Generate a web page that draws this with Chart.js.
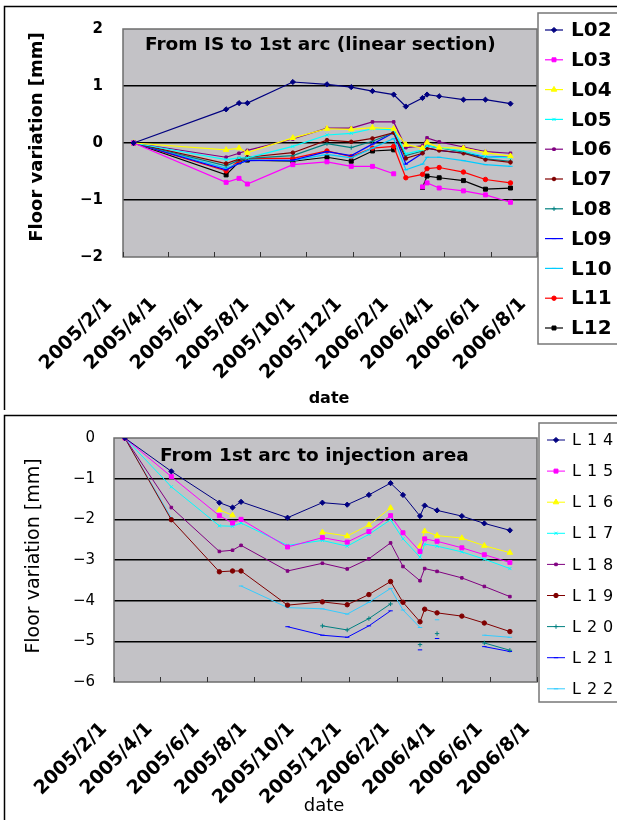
<!DOCTYPE html>
<html>
<head>
<meta charset="utf-8">
<script src="https://cdn.jsdelivr.net/npm/chart.js@4.4.1/dist/chart.umd.min.js"></script>
<style>
  body { margin: 0; background: #fff; width: 617px; height: 820px; overflow: hidden; position: relative; }
  canvas { position: absolute; left: 0; }
  #topChart { top: 0; }
  #bottomChart { top: 410px; }
</style>
</head>
<body>
<canvas id="topChart" width="617" height="410"></canvas>
<canvas id="bottomChart" width="617" height="410"></canvas>
<script>
// axis ticks (every 2 months)
const tickDates = ['2005/2/1', '2005/4/1', '2005/6/1', '2005/8/1', '2005/10/1', '2005/12/1', '2006/2/1', '2006/4/1', '2006/6/1', '2006/8/1'];

// survey dates
const datesTop = ['2005/2/15', '2005/6/17', '2005/7/4', '2005/7/15', '2005/9/13', '2005/10/28', '2005/11/29', '2005/12/27',
  '2006/1/24', '2006/2/9', '2006/3/3', '2006/3/9', '2006/3/25', '2006/4/26', '2006/5/25', '2006/6/27'];
const datesBottom = ['2005/2/15', '2005/4/16', '2005/6/17', '2005/7/4', '2005/7/15', '2005/9/13', '2005/10/28', '2005/11/29', '2005/12/27',
  '2006/1/24', '2006/2/9', '2006/3/3', '2006/3/9', '2006/3/25', '2006/4/26', '2006/5/25', '2006/6/27'];

// From IS to 1st arc (mm)
const L02 = [0, 0.59, 0.70, 0.70, 1.07, 1.03, 0.98, 0.91, 0.85, 0.64, 0.79, 0.85, 0.82, 0.76, 0.76, 0.69];
const L03 = [0, -0.69, -0.62, -0.72, -0.38, -0.33, -0.41, -0.41, -0.54, null, -0.77, -0.70, -0.79, -0.84, -0.91, -1.04];
const L04 = [0, -0.12, -0.09, -0.17, 0.09, 0.25, 0.24, 0.27, 0.25, -0.03, -0.09, 0.01, -0.08, -0.09, -0.17, -0.23];
const L05 = [0, -0.29, -0.26, -0.26, -0.06, 0.14, 0.17, 0.25, 0.23, -0.19, -0.12, -0.05, -0.08, -0.14, -0.24, -0.26];
const L06 = [0, -0.25, -0.18, -0.13, 0.07, 0.26, 0.26, 0.37, 0.37, -0.08, -0.05, 0.09, 0.02, -0.07, -0.15, -0.18];
const L07 = [0, -0.36, -0.28, -0.25, -0.17, 0.05, 0.02, 0.08, 0.18, -0.27, -0.18, -0.09, -0.13, -0.18, -0.29, -0.34];
const L08 = [0, -0.40, -0.30, -0.27, -0.22, -0.01, -0.08, 0.03, 0.18, -0.22, -0.14, -0.05, -0.08, -0.16, -0.28, -0.32];
const L09 = [0, -0.47, -0.36, -0.31, -0.30, -0.15, -0.22, -0.02, 0.18, -0.37, -0.18, -0.09, -0.13, -0.18, -0.24, -0.25];
const L10 = [0, -0.44, -0.36, -0.30, -0.31, -0.20, -0.26, -0.09, 0.08, -0.47, -0.37, -0.25, -0.25, -0.31, -0.38, -0.41];
const L11 = [0, -0.49, -0.31, -0.27, -0.27, -0.14, -0.24, -0.09, -0.06, -0.61, -0.55, -0.45, -0.43, -0.51, -0.64, -0.70];
const L12 = [0, -0.56, -0.33, -0.30, -0.32, -0.25, -0.32, -0.14, -0.12, null, -0.78, -0.58, -0.61, -0.66, -0.81, -0.79];

// From 1st arc to injection area (mm)
const L14 = [0, -0.82, -1.59, -1.71, -1.57, -1.96, -1.59, -1.64, -1.40, -1.11, -1.40, -1.92, -1.66, -1.78, -1.92, -2.10, -2.27];
const L15 = [0, -0.95, -1.91, -2.09, -2.00, -2.68, -2.45, -2.56, -2.30, -1.91, -2.33, -2.79, -2.48, -2.54, -2.70, -2.87, -3.06];
const L16 = [0, null, -1.77, -1.90, null, null, -2.32, -2.41, -2.14, -1.72, null, -2.66, -2.29, -2.40, -2.46, -2.65, -2.82];
const L17 = [0, -1.20, -2.16, -2.17, -2.09, -2.64, -2.52, -2.66, -2.37, -2.01, -2.48, -2.93, -2.61, -2.66, -2.80, -2.98, -3.21];
const L18 = [0, -1.71, -2.79, -2.76, -2.64, -3.27, -3.08, -3.22, -2.97, -2.58, -3.16, -3.51, -3.21, -3.28, -3.44, -3.65, -3.90];
const L19 = [0, -2.01, -3.29, -3.27, -3.27, -4.11, -4.03, -4.10, -3.85, -3.53, -4.04, -4.52, -4.21, -4.30, -4.38, -4.55, -4.76];
const L20 = [0, null, null, null, null, null, -4.62, -4.72, -4.44, -4.08, null, -5.08, null, -4.81, null, -5.04, -5.22];
const L21 = [0, null, null, null, null, -4.64, -4.85, -4.90, -4.62, -4.25, null, -5.21, null, -4.93, null, -5.13, -5.25];
const L22 = [0, -1.97, null, null, -3.64, -4.17, -4.20, -4.33, -4.04, -3.70, -4.23, -4.66, null, -4.47, null, -4.85, -4.90];

const namesTop = ['L02', 'L03', 'L04', 'L05', 'L06', 'L07', 'L08', 'L09', 'L10', 'L11', 'L12'];
const valuesTop = [L02, L03, L04, L05, L06, L07, L08, L09, L10, L11, L12];
const namesBottom = ['L14', 'L15', 'L16', 'L17', 'L18', 'L19', 'L20', 'L21', 'L22'];
const valuesBottom = [L14, L15, L16, L17, L18, L19, L20, L21, L22];

// look of the series (Excel style)
const colorsTop = ['#000080', '#ff00ff', '#ffff00', '#00ffff', '#800080', '#800000', '#008080', '#0000ff', '#00ccff', '#ff0000', '#000000'];
const markersTop = ['rectRot', 'rect', 'triangle', 'crossRot', 'rect', 'circle', 'cross', 'line', 'line', 'circle', 'rect'];
const sizesTop = [2.6, 2.8, 3.2, 2.2, 1.8, 1.8, 2.2, 2.2, 2.2, 2.2, 2.8];
const colorsBottom = ['#000080', '#ff00ff', '#ffff00', '#00ffff', '#800080', '#800000', '#008080', '#0000ff', '#33ccff'];
const markersBottom = ['rectRot', 'rect', 'triangle', 'crossRot', 'rect', 'circle', 'cross', 'line', 'line'];
const sizesBottom = [2.6, 2.8, 3.2, 2.2, 1.8, 2.2, 2.2, 2.2, 2.2];

const FONT = "'DejaVu Sans', sans-serif";
const PLOT_BG = '#c3c2c6';

// days since 2005/2/1
function dayOf(s) {
  const [y, m, d] = s.split('/').map(Number);
  return (Date.UTC(y, m - 1, d) - Date.UTC(2005, 1, 1)) / 86400000;
}
const tickDays = tickDates.map(dayOf);

// background, frame, inner title, axis titles, legend
const framePlugin = {
  id: 'frame',
  beforeDraw(chart, args, o) {
    const { ctx, chartArea: a } = chart;
    ctx.save();
    ctx.fillStyle = '#fff';
    ctx.fillRect(0, 0, chart.width, chart.height);
    ctx.strokeStyle = '#000';
    ctx.lineWidth = 1.5;
    ctx.beginPath();
    ctx.moveTo(4.5, chart.height);
    ctx.lineTo(4.5, o.frameTop);
    ctx.lineTo(chart.width, o.frameTop);
    ctx.stroke();
    ctx.fillStyle = PLOT_BG;
    ctx.fillRect(a.left, a.top, a.right - a.left, a.bottom - a.top);
    ctx.restore();
  },
  beforeDatasetsDraw(chart, args, o) {
    const { ctx, chartArea: a } = chart;
    ctx.save();
    ctx.strokeStyle = '#6e6e6e';
    ctx.lineWidth = 1.5;
    ctx.strokeRect(a.left, a.top, a.right - a.left, a.bottom - a.top);
    // tick marks pointing into the plot
    ctx.strokeStyle = '#333';
    ctx.lineWidth = 1;
    ctx.beginPath();
    tickDays.forEach(v => {
      const x = Math.round(chart.scales.x.getPixelForValue(v)) + 0.5;
      ctx.moveTo(x, a.bottom);
      ctx.lineTo(x, a.bottom - 5);
    });
    ctx.stroke();
    ctx.restore();
  },
  afterDraw(chart, args, o) {
    const { ctx } = chart;
    ctx.save();
    ctx.fillStyle = '#000';
    // title inside the plot
    ctx.font = 'bold ' + o.titleSize + 'px ' + FONT;
    ctx.textAlign = 'left';
    ctx.textBaseline = 'alphabetic';
    ctx.fillText(o.title, o.titleX, o.titleY);
    // axis titles
    ctx.font = o.axisWeight + ' ' + o.yTitleSize + 'px ' + FONT;
    ctx.textAlign = 'center';
    ctx.textBaseline = 'middle';
    ctx.save();
    ctx.translate(o.yTitleX, o.yTitleY);
    ctx.rotate(-Math.PI / 2);
    ctx.fillText('Floor variation [mm]', 0, 0);
    ctx.restore();
    ctx.font = o.axisWeight + ' ' + o.xTitleSize + 'px ' + FONT;
    ctx.fillText('date', o.xTitleX, o.xTitleY);
    // legend
    ctx.fillStyle = '#fff';
    ctx.fillRect(o.legX, o.legY, o.legW, o.legH);
    ctx.strokeStyle = '#777';
    ctx.lineWidth = 1.5;
    ctx.strokeRect(o.legX, o.legY, o.legW, o.legH);
    chart.data.datasets.forEach((ds, i) => {
      const y = o.itemY + i * o.itemStep;
      ctx.strokeStyle = ds.borderColor;
      ctx.lineWidth = ds.borderWidth;
      ctx.beginPath();
      ctx.moveTo(o.lineX1, y);
      ctx.lineTo(o.lineX2, y);
      ctx.stroke();
      ctx.fillStyle = ds.backgroundColor;
      ctx.lineWidth = ds.pointBorderWidth;
      Chart.helpers.drawPoint(ctx, { pointStyle: ds.pointStyle, radius: ds.pointRadius, borderWidth: ds.pointBorderWidth, rotation: 0 }, (o.lineX1 + o.lineX2) / 2, y);
      ctx.fillStyle = '#000';
      ctx.font = o.legWeight + ' ' + o.legSize + 'px ' + FONT;
      ctx.letterSpacing = o.legSpacing + 'px';
      ctx.textAlign = 'left';
      ctx.textBaseline = 'middle';
      ctx.fillText(ds.label, o.textX, y + 1);
      ctx.letterSpacing = '0px';
    });
    ctx.restore();
  }
};

function makeChart(id, s) {
  const canvas = document.getElementById(id);
  return new Chart(canvas, {
    type: 'line',
    data: {
      datasets: s.names.map((name, i) => ({
        label: name,
        data: s.dates.map((d, j) => ({ x: dayOf(d), y: s.values[i][j] })),
        borderColor: s.colors[i],
        backgroundColor: s.colors[i],
        pointStyle: s.markers[i],
        pointRadius: s.sizes[i],
        pointBorderWidth: 1,
        borderWidth: s.lineWidth,
        tension: 0,
        spanGaps: false
      }))
    },
    options: {
      responsive: false,
      animation: false,
      layout: { padding: { top: s.area.top, right: canvas.width - s.area.right, left: 0, bottom: 0 } },
      plugins: { legend: { display: false }, tooltip: { enabled: false }, frame: s.frame },
      scales: {
        x: {
          type: 'linear',
          min: 0,
          max: tickDays[tickDays.length - 1],
          afterBuildTicks: sc => { sc.ticks = tickDays.map(v => ({ value: v })); },
          afterFit: sc => { sc.height = canvas.height - s.area.bottom; },
          grid: { display: false },
          border: { display: false },
          ticks: {
            autoSkip: false,
            minRotation: 45,
            maxRotation: 45,
            padding: s.xPad,
            labelOffset: s.xOffset,
            color: '#000',
            font: { family: FONT, size: 19, weight: 'bold' },
            callback: (v, i) => tickDates[i]
          }
        },
        y: {
          min: s.yMin,
          max: s.yMax,
          afterFit: sc => { sc.width = s.area.left; },
          border: { display: false },
          grid: {
            drawTicks: false,
            lineWidth: 1.5,
            color: c => (c.tick.value === s.yMin || c.tick.value === s.yMax) ? 'rgba(0,0,0,0)' : '#000'
          },
          ticks: {
            stepSize: 1,
            padding: s.yPad,
            color: '#000',
            font: { family: FONT, size: 15, weight: s.yWeight },
            callback: v => v < 0 ? '\u2212' + Math.abs(v) : String(v)
          }
        }
      }
    },
    plugins: [framePlugin]
  });
}

makeChart('topChart', {
  names: namesTop, values: valuesTop, dates: datesTop,
  colors: colorsTop, markers: markersTop, sizes: sizesTop, lineWidth: 1.2,
  area: { left: 123, top: 25, right: 537, bottom: 257 },
  yMin: -2, yMax: 2, yPad: 20, yWeight: 'bold', xPad: 28, xOffset: -14,
  frame: {
    frameTop: 6.5, title: 'From IS to 1st arc (linear section)', titleSize: 18.5, titleX: 145, titleY: 50,
    axisWeight: 'bold', yTitleSize: 18, yTitleX: 37, yTitleY: 137, xTitleSize: 16, xTitleX: 329, xTitleY: 399,
    legX: 538, legY: 13, legW: 90, legH: 331, itemY: 30, itemStep: 29.8,
    lineX1: 545, lineX2: 563, textX: 571, legWeight: 'bold', legSize: 20, legSpacing: 0
  }
});

makeChart('bottomChart', {
  names: namesBottom, values: valuesBottom, dates: datesBottom,
  colors: colorsBottom, markers: markersBottom, sizes: sizesBottom, lineWidth: 1,
  area: { left: 114, top: 24, right: 537, bottom: 272 },
  yMin: -6, yMax: 0, yPad: 19, yWeight: 'normal', xPad: 28, xOffset: -10,
  frame: {
    frameTop: 5.5, title: 'From 1st arc to injection area', titleSize: 18.5, titleX: 160, titleY: 51,
    axisWeight: 'normal', yTitleSize: 19, yTitleX: 34, yTitleY: 146, xTitleSize: 18, xTitleX: 324, xTitleY: 396,
    legX: 539, legY: 13, legW: 90, legH: 279, itemY: 30, itemStep: 31.1,
    lineX1: 547, lineX2: 565, textX: 572, legWeight: 'normal', legSize: 16, legSpacing: 6
  }
});
</script>
</body>
</html>
